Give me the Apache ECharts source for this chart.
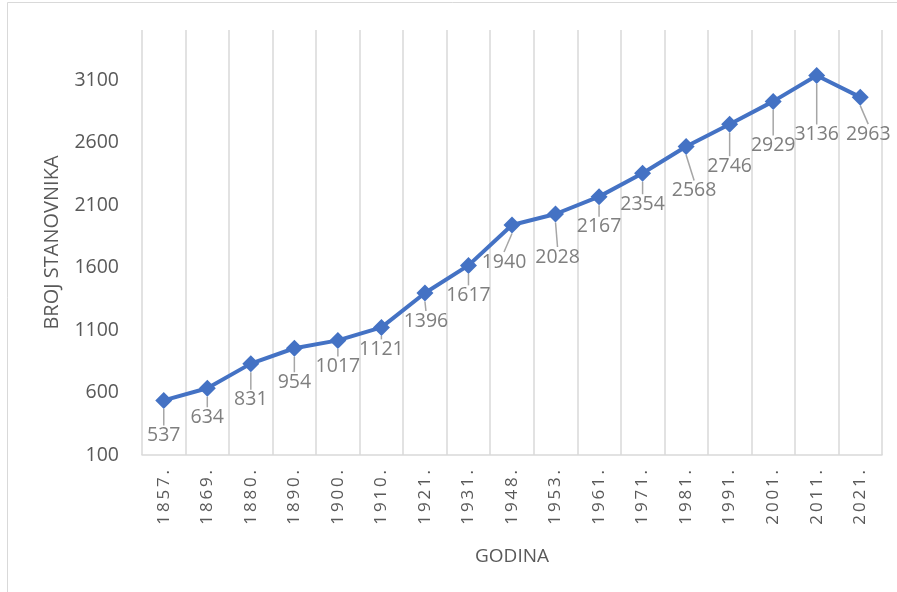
<!DOCTYPE html>
<html>
<head>
<meta charset="utf-8">
<script src="https://cdn.jsdelivr.net/npm/echarts@6/dist/echarts.min.js"></script>
<style>
html,body{margin:0;padding:0;background:#fff;}
#chart{width:897px;height:592px;}
</style>
</head>
<body>
<div id="chart"></div>
<script>
const years = ['1857.','1869.','1880.','1890.','1900.','1910.','1921.','1931.','1948.','1953.','1961.','1971.','1981.','1991.','2001.','2011.','2021.'];
const population = [537,634,831,954,1017,1121,1396,1617,1940,2028,2167,2354,2568,2746,2929,3136,2963];
const yTicks = [100,600,1100,1600,2100,2600,3100];

// label offsets (dx, dy) relative to each point
const labelOffsets = [[0,35],[0,29],[0,36],[0,34],[0,26],[0,22],[1,28],[0,30],[-8,37],[2,43],[0,30],[0,31],[8,44],[0,42],[0,44],[0,59],[8,37]];

const FONT = '"Open Sans", sans-serif';
const chart = echarts.init(document.getElementById('chart'));
chart.setOption({
  animation: false,
  backgroundColor: '#fff',
  graphic: [{
    type: 'rect', shape: {x: 7.5, y: 2.5, width: 900, height: 600},
    style: {fill: 'none', stroke: '#d9d9d9', lineWidth: 1}, silent: true, z: -1
  }],
  grid: {left: 142, right: 15, top: 30, bottom: 137, containLabel: false},
  xAxis: {
    type: 'category',
    data: years,
    boundaryGap: true,
    name: 'GODINA',
    nameLocation: 'middle',
    nameGap: 92,
    nameTextStyle: {color: '#595959', fontSize: 19, fontFamily: FONT},
    axisLine: {show: true, lineStyle: {color: '#d9d9d9', width: 1.5}},
    axisTick: {show: false},
    splitLine: {show: true, lineStyle: {color: '#d9d9d9', width: 1.5}},
    axisLabel: {
      rotate: 90, margin: 15, color: '#595959', fontSize: 17, fontFamily: FONT,
      interval: 0,
      formatter: v => v.split('').join('\u2009')
    }
  },
  yAxis: {
    type: 'value',
    min: 100,
    max: 3500,
    name: 'BROJ STANOVNIKA',
    nameLocation: 'middle',
    nameGap: 80,
    nameRotate: 90,
    nameTextStyle: {color: '#595959', fontSize: 20, fontFamily: FONT},
    axisLine: {show: false},
    axisTick: {show: false},
    splitLine: {show: false},
    axisLabel: {
      customValues: yTicks,
      formatter: v => String(v),
      margin: 23, color: '#595959', fontSize: 19.5, fontFamily: FONT
    }
  },
  series: [{
    type: 'line',
    data: population,
    symbol: 'diamond',
    symbolSize: 17,
    lineStyle: {color: '#4472C4', width: 4},
    itemStyle: {color: '#4472C4'},
    label: {
      show: true, position: 'inside', color: '#7f7f7f', fontSize: 19.5, fontFamily: FONT
    },
    labelLine: {show: true, lineStyle: {color: '#a6a6a6', width: 1.5}},
    labelLayout: p => ({dx: labelOffsets[p.dataIndex][0], dy: labelOffsets[p.dataIndex][1]})
  }]
});
</script>
</body>
</html>
